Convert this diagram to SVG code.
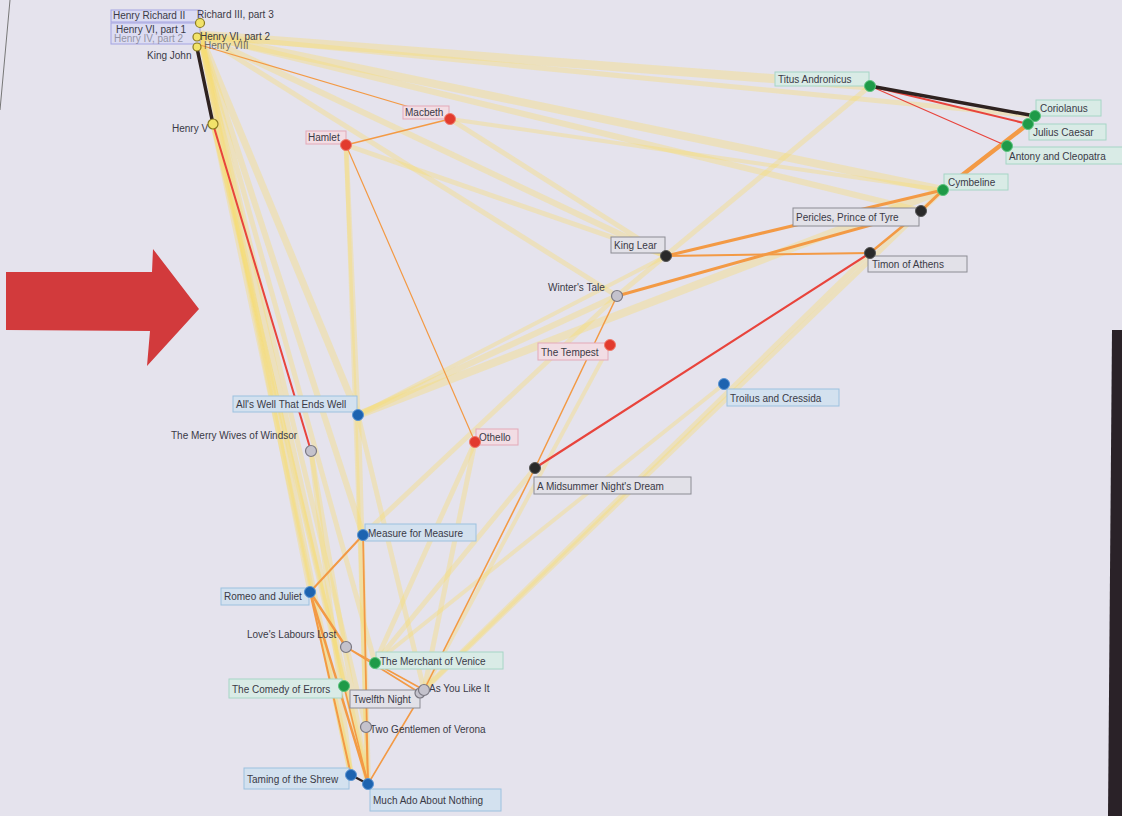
<svg xmlns="http://www.w3.org/2000/svg" width="1122" height="816" viewBox="0 0 1122 816">
<style>
text{font-family:"Liberation Sans",Arial,sans-serif;font-size:10px;fill:#3a3a46}
.y{stroke:#f6dc70;stroke-opacity:.38;stroke-linecap:round;fill:none}
.o{stroke:#f39a45;fill:none;stroke-linecap:round}
.r{stroke:#e8443c;fill:none;stroke-linecap:round}
.k{stroke:#2e2220;fill:none;stroke-linecap:round}
.lr{fill:#f2dde4;stroke:#e3a9b8;stroke-width:1}
.lg{fill:#d9ebe6;stroke:#a6d6c6;stroke-width:1}
.lb{fill:#d3e1ef;stroke:#9cc1df;stroke-width:1}
.lk{fill:#e2e1e8;stroke:#8c8c94;stroke-width:1}
.lp{fill:#dcdcf2;stroke:#a4a4e2;stroke-width:1}
.nr{fill:#e23b2e;stroke:#f07a6a;stroke-width:1}
.ng{fill:#1f9a48;stroke:#5cc47e;stroke-width:1}
.nb{fill:#1d63b0;stroke:#5a94d4;stroke-width:1}
.nk{fill:#2a2a2a;stroke:#555;stroke-width:1}
.nw{fill:#c4c2cc;stroke:#7a7882;stroke-width:1.2}
.ny{fill:#f2e36a;stroke:#8a7a20;stroke-width:1.2}
</style>
<rect width="1122" height="816" fill="#e5e3ed"/>
<line x1="10" y1="0" x2="0" y2="110" stroke="#777" stroke-width="1"/>
<polygon points="1112,330 1122,330 1122,816 1108,816" fill="#2a2228"/>
<polygon points="6,272 152,272 153,249 199,309 147,366 150,331 6,330" fill="#d23a3c"/>
<g id="connectors">
<g class="y">
<line x1="200" y1="35" x2="870" y2="86" stroke-width="9"/>
<line x1="200" y1="35" x2="943" y2="190" stroke-width="8"/>
<line x1="200" y1="35" x2="921" y2="211" stroke-width="6"/>
<line x1="200" y1="35" x2="666" y2="256" stroke-width="6"/>
<line x1="200" y1="35" x2="617" y2="296" stroke-width="5"/>
<line x1="200" y1="35" x2="1035" y2="116" stroke-width="5"/>
<line x1="200" y1="35" x2="358" y2="415" stroke-width="7"/>
<line x1="200" y1="35" x2="363" y2="535" stroke-width="6"/>
<line x1="200" y1="35" x2="351" y2="775" stroke-width="6"/>
<line x1="200" y1="35" x2="368" y2="784" stroke-width="6"/>
<line x1="200" y1="35" x2="375" y2="663" stroke-width="5"/>
<line x1="200" y1="35" x2="366" y2="727" stroke-width="5"/>
<line x1="200" y1="35" x2="310" y2="592" stroke-width="5"/>
<line x1="213" y1="124" x2="351" y2="775" stroke-width="5"/>
<line x1="213" y1="124" x2="344" y2="686" stroke-width="5"/>
<line x1="213" y1="124" x2="368" y2="784" stroke-width="4"/>
<line x1="450" y1="119" x2="666" y2="256" stroke-width="5"/>
<line x1="450" y1="119" x2="943" y2="190" stroke-width="4"/>
<line x1="346" y1="145" x2="666" y2="256" stroke-width="5"/>
<line x1="346" y1="145" x2="358" y2="415" stroke-width="5"/>
<line x1="346" y1="145" x2="368" y2="784" stroke-width="4"/>
<line x1="358" y1="415" x2="943" y2="190" stroke-width="8"/>
<line x1="358" y1="415" x2="617" y2="296" stroke-width="6"/>
<line x1="358" y1="415" x2="368" y2="784" stroke-width="6"/>
<line x1="358" y1="415" x2="424" y2="690" stroke-width="5"/>
<line x1="311" y1="451" x2="351" y2="775" stroke-width="5"/>
<line x1="311" y1="451" x2="368" y2="784" stroke-width="5"/>
<line x1="475" y1="442" x2="375" y2="663" stroke-width="5"/>
<line x1="475" y1="442" x2="424" y2="690" stroke-width="5"/>
<line x1="870" y1="86" x2="617" y2="296" stroke-width="5"/>
<line x1="943" y1="190" x2="424" y2="690" stroke-width="5"/>
<line x1="870" y1="253" x2="420" y2="693" stroke-width="5"/>
<line x1="724" y1="384" x2="375" y2="663" stroke-width="4"/>
<line x1="617" y1="296" x2="363" y2="535" stroke-width="5"/>
<line x1="666" y1="256" x2="358" y2="415" stroke-width="4"/>
<line x1="535" y1="468" x2="375" y2="663" stroke-width="5"/>
<line x1="610" y1="345" x2="424" y2="690" stroke-width="4"/>
</g>
<line class="o" x1="346" y1="145" x2="450" y2="119" stroke-width="1.5"/>
<line class="o" x1="346" y1="145" x2="475" y2="442" stroke="#f7bf82" stroke-width="1.2"/>
<line class="o" x1="200" y1="45" x2="450" y2="119" stroke="#ef7658" stroke-width="1.2"/>
<line class="o" x1="617" y1="296" x2="535" y2="468" stroke-width="1.5"/>
<line class="o" x1="666" y1="256" x2="870" y2="253" stroke="#f3b054" stroke-width="2"/>
<line class="o" x1="666" y1="256" x2="943" y2="190" stroke="#f4c460" stroke-width="3"/>
<line class="o" x1="617" y1="296" x2="921" y2="211" stroke="#f4c060" stroke-width="3"/>
<line class="o" x1="943" y1="190" x2="1028" y2="124" stroke="#f5a030" stroke-width="4.5"/>
<line class="o" x1="943" y1="190" x2="921" y2="211" stroke-width="3"/>
<line class="o" x1="921" y1="211" x2="870" y2="253" stroke-width="2.5"/>
<line class="o" x1="535" y1="468" x2="424" y2="690" stroke-width="1.6"/>
<line class="o" x1="424" y1="690" x2="368" y2="784" stroke-width="1.6"/>
<line class="o" x1="363" y1="535" x2="310" y2="592" stroke-width="2"/>
<line class="o" x1="363" y1="535" x2="368" y2="784" stroke-width="1.8"/>
<line class="o" x1="310" y1="592" x2="368" y2="784" stroke-width="2.5"/>
<line class="o" x1="310" y1="592" x2="351" y2="775" stroke-width="2"/>
<line class="o" x1="310" y1="592" x2="346" y2="647" stroke-width="2.5"/>
<line class="o" x1="346" y1="647" x2="420" y2="693" stroke-width="1.6"/>
<line class="o" x1="346" y1="647" x2="375" y2="663" stroke-width="1.4"/>
<line class="o" x1="375" y1="663" x2="424" y2="690" stroke-width="1.6"/>
<line class="o" x1="344" y1="686" x2="368" y2="784" stroke-width="1.6"/>
<line class="o" x1="366" y1="727" x2="368" y2="784" stroke-width="1.4"/>
<line class="r" x1="213" y1="124" x2="311" y2="451" stroke-width="2"/>
<line class="r" x1="870" y1="253" x2="535" y2="468" stroke-width="2.2"/>
<line class="r" x1="870" y1="86" x2="1028" y2="124" stroke-width="2"/>
<line class="r" x1="870" y1="86" x2="1007" y2="146" stroke="#f07462" stroke-width="1.2"/>
<line class="k" x1="870" y1="86" x2="1035" y2="116" stroke-width="3.5"/>
<line class="k" x1="197" y1="48" x2="213" y2="124" stroke="#3a2a18" stroke-width="3.5"/>
<line class="k" x1="351" y1="775" x2="368" y2="784" stroke-width="2"/>
</g>
<g id="n-henry-cluster">
<rect class="lp" x="111" y="10" width="89" height="12"/>
<rect class="lp" x="111" y="23" width="89" height="21"/>
<text x="113" y="19">Henry Richard II</text>
<text x="197" y="18">Richard III, part 3</text>
<text x="116" y="33">Henry VI, part 1</text>
<text x="114" y="42" opacity="0.45">Henry IV, part 2</text>
<text x="200" y="40">Henry VI, part 2</text>
<text x="204" y="49" font-size="8" opacity="0.7">Henry VIII</text>
<circle class="ny" cx="200" cy="23" r="4.5"/>
<circle class="ny" cx="197" cy="37" r="4"/>
<circle class="ny" cx="197" cy="47" r="4"/>
</g>
<g id="n-king-john"><text x="147" y="59">King John</text></g>
<g id="n-henry-v"><text x="172" y="132">Henry V</text><circle class="ny" cx="213" cy="124" r="5"/></g>
<g id="n-hamlet"><rect class="lr" x="306" y="131" width="40" height="13"/><text x="308" y="141">Hamlet</text><circle class="nr" cx="346" cy="145" r="5.5"/></g>
<g id="n-macbeth"><rect class="lr" x="403" y="106" width="46" height="13"/><text x="405" y="116">Macbeth</text><circle class="nr" cx="450" cy="119" r="5.5"/></g>
<g id="n-titus"><rect class="lg" x="775" y="72" width="94" height="14"/><text x="778" y="83">Titus Andronicus</text><circle class="ng" cx="870" cy="86" r="5.5"/></g>
<g id="n-coriolanus"><rect class="lg" x="1036" y="100" width="65" height="16"/><text x="1040" y="112">Coriolanus</text><circle class="ng" cx="1035" cy="116" r="5.5"/></g>
<g id="n-julius"><rect class="lg" x="1029" y="124" width="77" height="16"/><text x="1033" y="136">Julius Caesar</text><circle class="ng" cx="1028" cy="124" r="5.5"/></g>
<g id="n-antony"><rect class="lg" x="1006" y="147" width="118" height="17"/><text x="1009" y="160">Antony and Cleopatra</text><circle class="ng" cx="1007" cy="146" r="5.5"/></g>
<g id="n-cymbeline"><rect class="lg" x="944" y="174" width="64" height="16"/><text x="948" y="186">Cymbeline</text><circle class="ng" cx="943" cy="190" r="5.5"/></g>
<g id="n-pericles"><rect class="lk" x="793" y="208" width="126" height="18"/><text x="796" y="221">Pericles, Prince of Tyre</text><circle class="nk" cx="921" cy="211" r="5.5"/></g>
<g id="n-timon"><rect class="lk" x="868" y="256" width="99" height="16"/><text x="872" y="268">Timon of Athens</text><circle class="nk" cx="870" cy="253" r="5.5"/></g>
<g id="n-lear"><rect class="lk" x="611" y="237" width="54" height="16"/><text x="614" y="249">King Lear</text><circle class="nk" cx="666" cy="256" r="5.5"/></g>
<g id="n-winters"><text x="548" y="291">Winter's Tale</text><circle class="nw" cx="617" cy="296" r="5.5"/></g>
<g id="n-tempest"><rect class="lr" x="538" y="343" width="70" height="17"/><text x="541" y="356">The Tempest</text><circle class="nr" cx="610" cy="345" r="5.5"/></g>
<g id="n-troilus"><rect class="lb" x="727" y="389" width="112" height="17"/><text x="730" y="402">Troilus and Cressida</text><circle class="nb" cx="724" cy="384" r="5.5"/></g>
<g id="n-allswell"><rect class="lb" x="233" y="396" width="124" height="16"/><text x="236" y="408">All's Well That Ends Well</text><circle class="nb" cx="358" cy="415" r="5.5"/></g>
<g id="n-merrywives"><text x="171" y="439">The Merry Wives of Windsor</text><circle class="nw" cx="311" cy="451" r="5.5"/></g>
<g id="n-othello"><rect class="lr" x="476" y="429" width="42" height="16"/><text x="479" y="441">Othello</text><circle class="nr" cx="475" cy="442" r="5.5"/></g>
<g id="n-midsummer"><rect class="lk" x="534" y="477" width="157" height="17"/><text x="537" y="490">A Midsummer Night's Dream</text><circle class="nk" cx="535" cy="468" r="5.5"/></g>
<g id="n-measure"><rect class="lb" x="365" y="524" width="111" height="17"/><text x="368" y="537">Measure for Measure</text><circle class="nb" cx="363" cy="535" r="5.5"/></g>
<g id="n-romeo"><rect class="lb" x="221" y="588" width="88" height="17"/><text x="224" y="600">Romeo and Juliet</text><circle class="nb" cx="310" cy="592" r="5.5"/></g>
<g id="n-loves"><text x="247" y="638">Love's Labours Lost</text><circle class="nw" cx="346" cy="647" r="5.5"/></g>
<g id="n-merchant"><rect class="lg" x="376" y="652" width="127" height="17"/><text x="380" y="665">The Merchant of Venice</text><circle class="ng" cx="375" cy="663" r="5.5"/></g>
<g id="n-comedy"><rect class="lg" x="229" y="679" width="113" height="19"/><text x="232" y="693">The Comedy of Errors</text><circle class="ng" cx="344" cy="686" r="5.5"/></g>
<g id="n-twelfth"><rect class="lk" x="350" y="690" width="70" height="18" stroke="#9a9aa4"/><text x="353" y="703">Twelfth Night</text><circle class="nw" cx="420" cy="693" r="5"/></g>
<g id="n-asyoulike"><text x="429" y="692">As You Like It</text><circle class="nw" cx="424" cy="690" r="5.5"/></g>
<g id="n-twogent"><text x="370" y="733">Two Gentlemen of Verona</text><circle class="nw" cx="366" cy="727" r="5.5"/></g>
<g id="n-taming"><rect class="lb" x="244" y="768" width="105" height="21"/><text x="247" y="783">Taming of the Shrew</text><circle class="nb" cx="351" cy="775" r="5.5"/></g>
<g id="n-muchado"><rect class="lb" x="370" y="789" width="131" height="22"/><text x="373" y="804">Much Ado About Nothing</text><circle class="nb" cx="368" cy="784" r="5.5"/></g>
</svg>
